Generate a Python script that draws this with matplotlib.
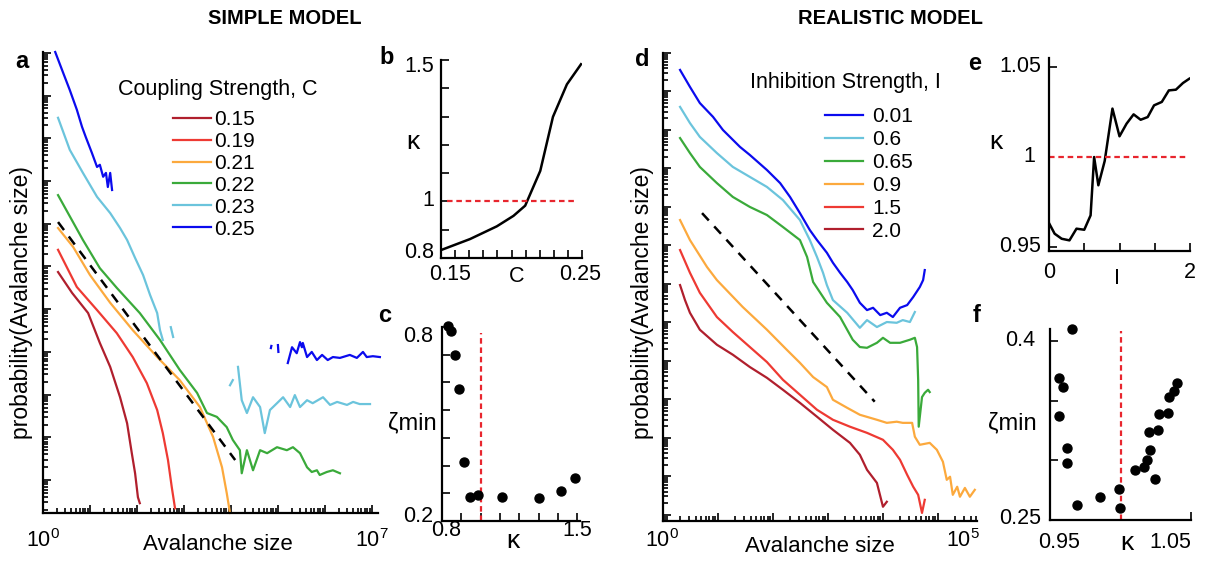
import numpy as np
import matplotlib
matplotlib.use('Agg')
import matplotlib.pyplot as plt
from matplotlib.ticker import LogLocator, NullFormatter

plt.rcParams['font.family'] = ['Liberation Sans', 'DejaVu Sans']
plt.rcParams['mathtext.fontset'] = 'custom'
plt.rcParams['mathtext.rm'] = 'Liberation Sans'
plt.rcParams['axes.linewidth'] = 1.6

nan = np.nan

# ---------------- Panel a: simple model, log10(size) / log10(probability) ----------------
a_labels = ['0.15', '0.19', '0.21', '0.22', '0.23', '0.25']
a_c015_x = [0.32, 0.62, 0.96, 1.21, 1.43, 1.64, 1.79, 1.89, 1.96, 2.02, 2.06]
a_c015_y = [-5.13, -5.62, -6.09, -6.79, -7.35, -8.06, -8.67, -9.37, -9.84, -10.40, -10.54]
a_c019_x = [0.32, 0.72, 1.15, 1.57, 1.91, 2.21, 2.43, 2.55, 2.66, 2.74, 2.81]
a_c019_y = [-4.61, -5.48, -6.02, -6.56, -7.12, -7.73, -8.36, -8.90, -9.53, -10.16, -10.66]
a_c021_x = [0.32, 0.64, 1.00, 1.43, 1.91, 2.43, 2.91, 3.34, 3.62, 3.81, 3.91, 3.98]
a_c021_y = [-4.10, -4.54, -5.20, -5.85, -6.49, -7.12, -7.66, -8.29, -8.99, -9.70, -10.30, -10.77]
a_c022_x = [0.32, 0.85, 1.21, 1.57, 2.06, 2.49, 2.91, 3.28, 3.49, 3.70, 3.91, 4.04, 4.19, 4.23,
            4.34, 4.47, 4.62, 4.77, 4.98, 5.19, 5.32, 5.47, 5.62, 5.72, 5.83, 5.89, 6.04, 6.17, 6.32]
a_c022_y = [-3.33, -4.38, -5.04, -5.50, -6.09, -6.72, -7.42, -7.96, -8.43, -8.52, -8.76, -9.06, -9.30, -9.84,
            -9.30, -9.77, -9.30, -9.37, -9.23, -9.30, -9.23, -9.37, -9.70, -9.81, -9.77, -9.88, -9.81, -9.77, -9.84]
a_c023_x = [0.32, 0.57, 0.85, 1.15, 1.43, 1.64, 1.79, 1.96, 2.13, 2.28, 2.43, 2.49, 2.55, nan,
            2.72, 2.77, nan, 3.98, 4.04, nan,
            4.15, 4.23, 4.34, 4.47, 4.62, 4.72, 4.83, 4.98, 5.11, 5.26, 5.36, 5.47, 5.62, 5.74,
            5.96, 6.11, 6.26, 6.47, 6.60, 6.74, 6.96]
a_c023_y = [-1.52, -2.27, -2.81, -3.37, -3.75, -4.10, -4.38, -4.80, -5.20, -5.67, -6.09, -6.49, -6.72, nan,
            -6.42, -6.65, nan, -7.78, -7.66, nan,
            -7.35, -8.13, -8.43, -8.06, -8.29, -8.90, -8.36, -8.20, -8.06, -8.29, -8.01, -8.29, -8.13, -8.20,
            -8.06, -8.24, -8.17, -8.24, -8.17, -8.22, -8.22]
a_c025_x = [0.26, 0.43, 0.57, 0.72, 0.83, 0.91, 1.04, 1.15, 1.21, 1.28, 1.34, 1.38, 1.43, 1.47, nan,
            4.85, 4.86, nan, 5.00, 5.01, nan,
            5.21, 5.30, 5.40, 5.47, 5.51, 5.53, 5.62, 5.72, 5.83, 5.94, 6.06, 6.17, 6.32, 6.53, 6.68,
            6.81, 6.89, 7.02, 7.17]
a_c025_y = [0.02, -0.47, -0.87, -1.33, -1.73, -1.97, -2.34, -2.67, -2.62, -2.90, -2.81, -3.14, -2.81, -3.21, nan,
            -6.91, -6.86, nan, -6.84, -7.00, nan,
            -7.26, -6.89, -7.03, -6.77, -6.89, -6.79, -7.12, -7.00, -7.19, -7.07, -7.19, -7.12, -7.14, -7.07, -7.14,
            -7.00, -7.12, -7.10, -7.12]
a_fit_x = [0.32, 4.09]
a_fit_y = [-3.96, -9.53]

# ---------------- Panel b ----------------
b_C = [0.15, 0.1706, 0.1896, 0.2014, 0.2097, 0.2204, 0.2294, 0.2393, 0.2493]
b_kappa = [0.828, 0.867, 0.912, 0.949, 0.985, 1.108, 1.299, 1.414, 1.485]

# ---------------- Panel c ----------------
c_kappa = [0.829, 0.846, 0.868, 0.890, 0.914, 0.945, 0.984, 1.111, 1.303, 1.414, 1.491]
c_zeta = [0.803, 0.789, 0.712, 0.608, 0.383, 0.275, 0.281, 0.275, 0.271, 0.292, 0.332]

# ---------------- Panel d: realistic model ----------------
d_labels = ['0.01', '0.6', '0.65', '0.9', '1.5', '2.0']
d_i001_x = [0.31, 0.49, 0.67, 0.91, 1.09, 1.40, 1.58, 1.89, 2.13, 2.31, 2.49, 2.67, 2.80, 2.98, 3.09, 3.22,
            3.35, 3.45, 3.58, 3.71, 3.82, 3.95, 4.07, 4.18, 4.31, 4.44, 4.55, 4.67, 4.73, 4.76]
d_i001_y = [-0.44, -0.88, -1.30, -1.66, -2.00, -2.44, -2.65, -3.04, -3.38, -3.74, -4.16, -4.60, -4.86, -5.19,
            -5.45, -5.71, -5.95, -6.16, -6.49, -6.68, -6.62, -6.81, -6.75, -6.86, -6.62, -6.55, -6.34, -6.08,
            -5.90, -5.64]
d_i06_x = [0.31, 0.49, 0.67, 0.98, 1.27, 1.58, 1.89, 2.18, 2.49, 2.67, 2.80, 2.91, 2.98, 3.09, 3.35, 3.58,
           3.71, 3.89, 4.07, 4.25, 4.36, 4.49, 4.58]
d_i06_y = [-1.40, -1.82, -2.18, -2.60, -2.96, -3.22, -3.48, -3.82, -4.34, -4.86, -5.30, -5.71, -6.03, -6.42,
           -6.75, -7.14, -6.94, -7.12, -6.99, -7.01, -6.94, -6.99, -6.73]
d_i065_x = [0.31, 0.49, 0.67, 0.98, 1.27, 1.58, 1.89, 2.18, 2.49, 2.62, 2.73, 2.98, 3.22, 3.45, 3.58, 3.71,
            3.89, 4.00, 4.13, 4.31, 4.49, 4.58, 4.62, 4.64, 4.65, 4.71, 4.76, 4.82, 4.85]
d_i065_y = [-2.21, -2.60, -2.96, -3.38, -3.74, -4.00, -4.21, -4.52, -4.86, -5.30, -5.95, -6.49, -6.86, -7.45,
            -7.64, -7.66, -7.53, -7.40, -7.53, -7.53, -7.45, -7.40, -7.64, -8.49, -9.71, -8.94, -8.83, -8.75, -8.81]
d_i09_x = [0.31, 0.49, 0.80, 0.98, 1.45, 1.89, 2.25, 2.49, 2.73, 2.98, 3.09, 3.35, 3.58, 3.89, 4.07, 4.25,
           4.36, 4.53, 4.58, 4.67, 4.85, 4.98, 5.09, 5.16, 5.22, 5.27, 5.35, 5.40, 5.49, 5.58, 5.67]
d_i09_y = [-4.34, -4.86, -5.56, -5.90, -6.60, -7.19, -7.71, -8.05, -8.42, -8.68, -9.01, -9.22, -9.40, -9.53,
           -9.61, -9.58, -9.61, -9.61, -9.97, -10.18, -10.13, -10.31, -10.62, -11.09, -11.01, -11.48, -11.27,
           -11.53, -11.30, -11.53, -11.35]
d_i15_x = [0.31, 0.49, 0.67, 0.98, 1.27, 1.58, 1.89, 2.18, 2.49, 2.80, 3.09, 3.40, 3.71, 4.00, 4.18, 4.31,
           4.44, 4.55, 4.64, 4.71, 4.76]
d_i15_y = [-5.12, -5.71, -6.23, -6.86, -7.25, -7.64, -8.03, -8.49, -8.88, -9.27, -9.53, -9.71, -9.87, -10.05,
           -10.31, -10.57, -10.96, -11.27, -11.48, -11.95, -11.61]
d_i20_x = [0.31, 0.40, 0.49, 0.67, 0.98, 1.27, 1.58, 1.89, 2.18, 2.49, 2.80, 3.09, 3.40, 3.58, 3.71, 3.89,
           4.00, 4.07]
d_i20_y = [-6.03, -6.42, -6.75, -7.19, -7.58, -7.84, -8.16, -8.44, -8.75, -9.09, -9.45, -9.79, -10.13, -10.44,
           -10.83, -11.17, -11.79, -11.66]
d_fit_x = [0.71, 3.85]
d_fit_y = [-4.16, -9.06]

# ---------------- Panel e ----------------
e_I = [0, 0.08, 0.18, 0.29, 0.39, 0.5, 0.59, 0.64, 0.7, 0.79, 0.9, 1.0, 1.1, 1.2, 1.3, 1.4, 1.49, 1.6, 1.7,
       1.8, 1.9, 1.99]
e_kappa = [0.9633, 0.9574, 0.9546, 0.9537, 0.9602, 0.9596, 0.9676, 1.0, 0.9843, 0.9978, 1.0269, 1.0115,
           1.0185, 1.0237, 1.0207, 1.0222, 1.0287, 1.0306, 1.037, 1.0374, 1.0411, 1.0435]

# ---------------- Panel f ----------------
f_kappa = [0.9659, 0.9566, 0.959, 0.9564, 0.9618, 0.9623, 0.9694, 0.9855, 0.9986, 0.9993, 1.01, 1.0164,
           1.0187, 1.0211, 1.0242, 1.0199, 1.0263, 1.0275, 1.0337, 1.0341, 1.0377, 1.04]
f_zeta = [0.4107, 0.3694, 0.3618, 0.3376, 0.3104, 0.2978, 0.2626, 0.2697, 0.2758, 0.2598, 0.2921, 0.2949,
          0.30, 0.3084, 0.2843, 0.3236, 0.3253, 0.3390, 0.3399, 0.3534, 0.3581, 0.3652]

# ---------------- styling ----------------
COL_DR = '#b01f2d'
COL_R = '#ee3a33'
COL_O = '#fca93d'
COL_G = '#3aaa3a'
COL_LB = '#6bc4dc'
COL_B = '#0b0bee'
COL_DASH = '#e8262e'

W, H = 1216, 561
fig = plt.figure(figsize=(W / 100, H / 100), dpi=100)


def add_ax(l, t, r, b):
    return fig.add_axes([l / W, 1 - b / H, (r - l) / W, (b - t) / H])


def ftext(x, y, s, **kw):
    kw.setdefault('ha', 'center')
    kw.setdefault('va', 'center')
    kw.setdefault('fontsize', 15.5)
    fig.text(x / W, 1 - y / H, s, **kw)


def style(ax):
    for s in ['top', 'right']:
        ax.spines[s].set_visible(False)
    ax.tick_params(which='both', direction='in', width=1.2, labelbottom=False, labelleft=False)
    ax.tick_params(which='major', length=6)
    ax.tick_params(which='minor', length=3.5)


def log_axes(ax):
    ax.set_xscale('log')
    ax.set_yscale('log')
    for axis in (ax.xaxis, ax.yaxis):
        axis.set_major_locator(LogLocator(base=10, numticks=40))
        axis.set_minor_locator(LogLocator(base=10, subs=np.arange(2, 10), numticks=40))
        axis.set_major_formatter(NullFormatter())
        axis.set_minor_formatter(NullFormatter())


def pl(ax, x, y, **kw):
    ax.plot(10 ** np.array(x, dtype=float), 10 ** np.array(y, dtype=float), **kw)


# ---- Panel a ----
ax_a = add_ax(43, 52, 378, 513)
log_axes(ax_a)
series_a = [(a_c015_x, a_c015_y, COL_DR), (a_c019_x, a_c019_y, COL_R), (a_c021_x, a_c021_y, COL_O),
            (a_c022_x, a_c022_y, COL_G), (a_c023_x, a_c023_y, COL_LB), (a_c025_x, a_c025_y, COL_B)]
handles_a = []
for x, y, c in series_a:
    h, = ax_a.plot(10 ** np.array(x, dtype=float), 10 ** np.array(y, dtype=float), color=c, lw=1.6,
                   clip_on=False)
    handles_a.append(h)
pl(ax_a, a_fit_x, a_fit_y, color='black', lw=1.8, ls=(0, (4, 3.2)))
ax_a.set_xlim(1, 10 ** 7.13)
ax_a.set_ylim(10 ** -10.77, 10 ** 0.02)
style(ax_a)
ax_a.legend(handles_a, a_labels, loc='upper left', bbox_to_anchor=(173 / W, 1 - 110 / H),
            bbox_transform=fig.transFigure, frameon=False, fontsize=15, handlelength=1.82,
            handletextpad=0.15, labelspacing=0.14, borderpad=0, borderaxespad=0)
ftext(218, 90, 'Coupling Strength, C')
ftext(43, 541, r'$\mathregular{10^{0}}$')
ftext(372, 541, r'$\mathregular{10^{7}}$')
ftext(218, 545, 'Avalanche size', fontsize=16)
ftext(22, 303, 'probability(Avalanche size)', rotation=90, fontsize=16.5)

# ---- Panel b ----
ax_b = add_ax(441, 60, 582, 258)
ax_b.plot(b_C, b_kappa, color='black', lw=1.8)
ax_b.plot([0.154, 0.2465], [1, 1], color=COL_DASH, lw=1.6, ls=(0, (2.5, 1.7)))
ax_b.set_xlim(0.15, 0.25)
ax_b.set_ylim(0.8, 1.5)
ax_b.set_xticks(np.linspace(0.15, 0.25, 11))
ax_b.set_yticks(np.linspace(0.8, 1.5, 8))
style(ax_b)
ftext(450, 274, '0.15')
ftext(580, 274, '0.25')
ftext(517, 276, 'C')
ftext(419, 66, '1.5')
ftext(428, 201, '1')
ftext(419, 253, '0.8')
ftext(413, 142, 'κ', fontsize=19)

# ---- Panel c ----
ax_c = add_ax(442, 327, 580, 521)
ax_c.scatter(c_kappa, c_zeta, s=42, color='black', clip_on=False, zorder=3)
ax_c.plot([1, 1], [0.2, 0.78], color=COL_DASH, lw=1.6, ls=(0, (2.5, 1.7)))
ax_c.set_xlim(0.8, 1.515)
ax_c.set_ylim(0.2, 0.8)
ax_c.set_xticks(np.linspace(0.8, 1.5, 8))
ax_c.set_yticks(np.linspace(0.2, 0.8, 8))
style(ax_c)
ftext(446, 531, '0.8')
ftext(577, 531, '1.5')
ftext(513, 541, 'κ', fontsize=19)
ftext(418, 336, '0.8')
ftext(418, 517, '0.2')
ftext(412, 423, 'ζmin', fontsize=17)

# ---- Panel d ----
ax_d = add_ax(663, 53, 977, 521)
log_axes(ax_d)
series_d = [(d_i001_x, d_i001_y, COL_B), (d_i06_x, d_i06_y, COL_LB), (d_i065_x, d_i065_y, COL_G),
            (d_i09_x, d_i09_y, COL_O), (d_i15_x, d_i15_y, COL_R), (d_i20_x, d_i20_y, COL_DR)]
handles_d = []
for x, y, c in series_d:
    h, = ax_d.plot(10 ** np.array(x, dtype=float), 10 ** np.array(y, dtype=float), color=c, lw=1.6,
                   clip_on=False)
    handles_d.append(h)
pl(ax_d, d_fit_x, d_fit_y, color='black', lw=1.8, ls=(0, (4, 3.2)))
ax_d.set_xlim(1, 10 ** 5.71)
ax_d.set_ylim(10 ** -12.16, 1)
style(ax_d)
ax_d.legend(handles_d, d_labels, loc='upper left', bbox_to_anchor=(825 / W, 1 - 107 / H),
            bbox_transform=fig.transFigure, frameon=False, fontsize=15, handlelength=1.82,
            handletextpad=0.43, labelspacing=0.19, borderpad=0, borderaxespad=0)
ftext(845, 82, 'Inhibition Strength, I')
ftext(662, 541, r'$\mathregular{10^{0}}$')
ftext(963, 541, r'$\mathregular{10^{5}}$')
ftext(820, 547, 'Avalanche size', fontsize=16)
ftext(642, 303, 'probability(Avalanche size)', rotation=90, fontsize=16.5)

# ---- Panel e ----
ax_e = add_ax(1049, 58, 1190, 251)
ax_e.plot(e_I, e_kappa, color='black', lw=1.8)
ax_e.plot([0, 1.97], [1, 1], color=COL_DASH, lw=1.6, ls=(0, (2.5, 1.7)))
ax_e.set_xlim(0, 2)
ax_e.set_ylim(0.9478, 1.055)
ax_e.set_xticks([0, 0.5, 1, 1.5, 2])
ax_e.set_yticks([0.95, 1.05])
style(ax_e)
ftext(1049, 273, '0')
ftext(1190, 273, '2')
ftext(1117, 279, 'I')
ftext(1020, 67, '1.05')
ftext(1029, 157, '1')
ftext(1020, 247, '0.95')
ftext(996, 142, 'κ', fontsize=19)

# ---- Panel f ----
ax_f = add_ax(1050, 329, 1191, 520)
ax_f.scatter(f_kappa, f_zeta, s=42, color='black', clip_on=False, zorder=3)
ax_f.plot([1, 1], [0.25, 0.4087], color=COL_DASH, lw=1.6, ls=(0, (2.5, 1.7)))
ax_f.set_xlim(0.95, 1.05)
ax_f.set_ylim(0.25, 0.4104)
ax_f.set_xticks([0.95, 1.05])
ax_f.set_yticks([0.25, 0.3, 0.35, 0.4])
style(ax_f)
ftext(1059, 542, '0.95')
ftext(1170, 542, '1.05')
ftext(1127, 543, 'κ', fontsize=19)
ftext(1020, 340, '0.4')
ftext(1020, 518, '0.25')
ftext(1012, 423, 'ζmin', fontsize=17)

# ---- Panel letters and headers ----
for lx, ly, s in [(22, 62, 'a'), (387, 58, 'b'), (385, 315, 'c'), (642, 60, 'd'), (975, 63, 'e'), (977, 315, 'f')]:
    ftext(lx, ly, s, fontsize=17, fontweight='bold')
ftext(285, 18, 'SIMPLE MODEL', fontsize=14.5, fontweight='bold')
ftext(890, 18, 'REALISTIC MODEL', fontsize=14.5, fontweight='bold')

fig.savefig('out.png', dpi=100)
